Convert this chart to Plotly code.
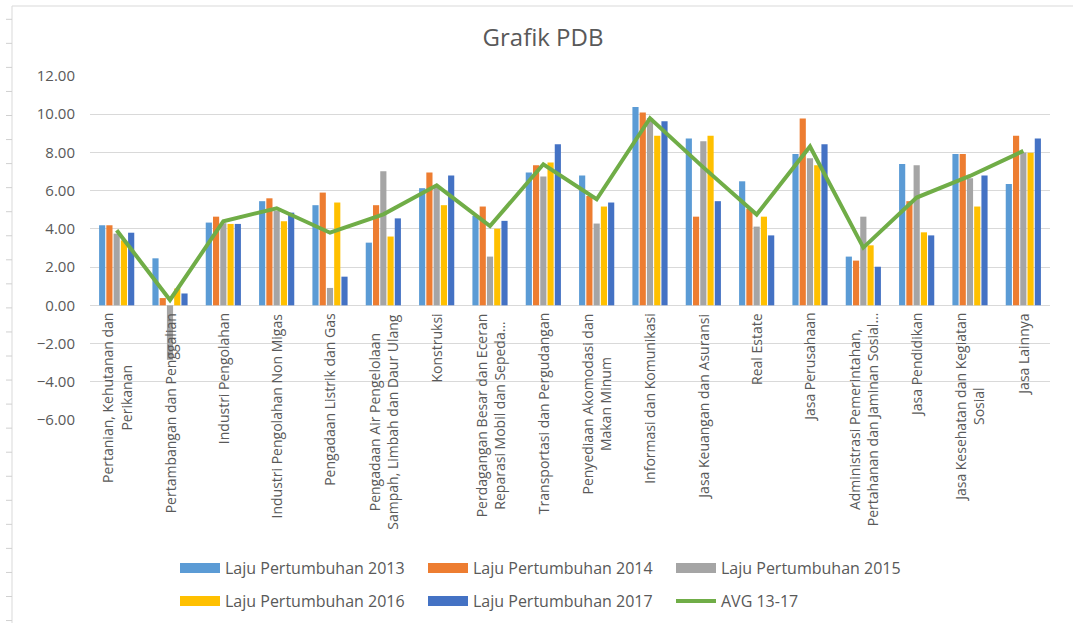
import plotly.graph_objects as go

# ---------------- data ----------------
categories = [
    "Pertanian, Kehutanan dan<br>Perikanan",
    "Pertambangan dan Penggalian",
    "Industri Pengolahan",
    "Industri Pengolahan Non Migas",
    "Pengadaan Listrik dan Gas",
    "Pengadaan Air Pengelolaan<br>Sampah, Limbah dan Daur Ulang",
    "Konstruksi",
    "Perdagangan Besar dan Eceran<br>Reparasi Mobil dan Sepeda…",
    "Transportasi dan Pergudangan",
    "Penyediaan Akomodasi dan<br>Makan Minum",
    "Informasi dan Komunikasi",
    "Jasa Keuangan dan Asuransi",
    "Real Estate",
    "Jasa Perusahaan",
    "Administrasi Pemerintahan,<br>Pertahanan dan Jaminan Sosial…",
    "Jasa Pendidikan",
    "Jasa Kesehatan dan Kegiatan<br>Sosial",
    "Jasa Lainnya",
]

laju_2013 = [4.19, 2.46, 4.33, 5.45, 5.24, 3.28, 6.13, 4.68, 6.95, 6.79, 10.38, 8.73, 6.49, 7.92, 2.55, 7.40, 7.92, 6.35]
laju_2014 = [4.19, 0.38, 4.64, 5.60, 5.90, 5.24, 6.95, 5.17, 7.33, 5.72, 10.09, 4.64, 5.05, 9.77, 2.34, 5.45, 7.92, 8.88]
laju_2015 = [3.75, -2.85, 4.30, 4.95, 0.91, 7.02, 6.20, 2.55, 6.74, 4.28, 9.80, 8.59, 4.12, 7.70, 4.64, 7.33, 6.65, 8.00]
laju_2016 = [3.40, 0.88, 4.26, 4.40, 5.38, 3.60, 5.24, 4.01, 7.47, 5.17, 8.88, 8.88, 4.64, 7.33, 3.14, 3.82, 5.17, 7.98]
laju_2017 = [3.80, 0.62, 4.26, 4.85, 1.50, 4.55, 6.79, 4.42, 8.43, 5.38, 9.63, 5.45, 3.66, 8.43, 2.02, 3.66, 6.79, 8.73]
avg_13_17 = [3.93, 0.28, 4.40, 5.08, 3.80, 4.76, 6.28, 4.15, 7.38, 5.55, 9.79, 7.22, 4.75, 8.31, 3.02, 5.64, 6.77, 8.08]

series_names = ["Laju Pertumbuhan 2013", "Laju Pertumbuhan 2014", "Laju Pertumbuhan 2015",
                "Laju Pertumbuhan 2016", "Laju Pertumbuhan 2017"]
series_values = [laju_2013, laju_2014, laju_2015, laju_2016, laju_2017]
series_colors = ["#5B9BD5", "#ED7D31", "#A5A5A5", "#FFC000", "#4472C4"]
avg_name = "AVG 13-17"
avg_color = "#70AD47"

y_ticks = [-6, -4, -2, 0, 2, 4, 6, 8, 10, 12]

# ---------------- layout geometry ----------------
W, H = 1073, 623
ML, MR, MT, MB = 90, 23, 76, 203
PW, PH = W - ML - MR, H - MT - MB
TXT = "#595959"
FONT = "Open Sans"


def px_x(px):
    return (px - ML) / PW


def px_y(py):
    return (H - MB - py) / PH


fig = go.Figure()

for name, vals, col in zip(series_names, series_values, series_colors):
    fig.add_trace(go.Bar(
        x=categories, y=vals, name=name, marker=dict(color=col, line=dict(width=0)),
        showlegend=False,
    ))

# legend swatches (wide rectangles like the original)
for i, (name, col) in enumerate(zip(series_names, series_colors)):
    fig.add_trace(go.Scatter(
        x=[None], y=[None], mode="lines", name=name,
        line=dict(color=col, width=10),
        legend="legend" if i < 3 else "legend2",
    ))

fig.add_trace(go.Scatter(
    x=categories, y=avg_13_17, mode="lines", name=avg_name,
    line=dict(color=avg_color, width=4), legend="legend2",
))

# category labels next to the zero line
annotations = []
for c in categories:
    annotations.append(dict(
        x=c, y=0, xref="x", yref="y", text=c, showarrow=False,
        textangle=-90, xanchor="center", yanchor="top", yshift=-6,
        font=dict(family=FONT, size=14, color=TXT), align="center",
    ))

# sheet border decoration (left and top edges)
shapes = [
    dict(type="line", xref="paper", yref="paper", x0=px_x(12), x1=px_x(W), y0=px_y(6), y1=px_y(6),
         line=dict(color="#D9D9D9", width=1)),
    dict(type="line", xref="paper", yref="paper", x0=px_x(12), x1=px_x(12), y0=px_y(6), y1=px_y(H),
         line=dict(color="#D9D9D9", width=1)),
]
ty = 19.3
while ty < H:
    shapes.append(dict(type="line", xref="paper", yref="paper", x0=px_x(6), x1=px_x(12),
                       y0=px_y(ty), y1=px_y(ty), line=dict(color="#D0D0D0", width=1)))
    ty += 24.05

legend_common = dict(
    orientation="h", xanchor="left", yanchor="middle",
    font=dict(family=FONT, size=16, color=TXT),
    entrywidth=193, entrywidthmode="pixels", itemwidth=40,
    bgcolor="rgba(0,0,0,0)", itemclick=False, itemdoubleclick=False,
    tracegroupgap=0,
)

fig.update_layout(
    width=W, height=H,
    margin=dict(l=ML, r=MR, t=MT, b=MB, autoexpand=False),
    paper_bgcolor="white", plot_bgcolor="white",
    barmode="group", bargap=0.32, bargroupgap=0.15,
    title=dict(text="Grafik PDB", x=543 / W, xanchor="center", y=1 - 38 / H, yanchor="middle",
               font=dict(family=FONT, size=24, color=TXT)),
    xaxis=dict(type="category", showticklabels=False, showgrid=False, zeroline=False,
               showline=False, ticks="", fixedrange=True),
    yaxis=dict(range=[-6, 12], tickvals=y_ticks, tickformat=".2f", showgrid=True,
               gridcolor="#D9D9D9", gridwidth=1, zeroline=True, zerolinecolor="#D9D9D9",
               zerolinewidth=1, showline=False, ticks="", ticklabelstandoff=14,
               tickfont=dict(family=FONT, size=15, color=TXT), fixedrange=True),
    legend=dict(x=px_x(175), y=px_y(568), **legend_common),
    legend2=dict(x=px_x(175), y=px_y(601), **legend_common),
    annotations=annotations,
    shapes=shapes,
    font=dict(family=FONT, color=TXT),
)

fig.write_html(
    "out.html",
    config={"displayModeBar": False},
    post_script="document.body.style.margin='0';document.body.style.overflow='hidden';",
)
